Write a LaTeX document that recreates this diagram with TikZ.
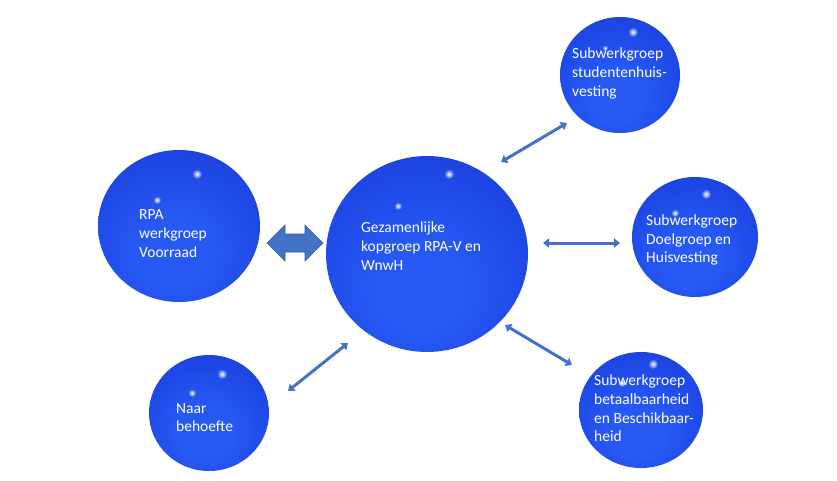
\documentclass[tikz,border=0pt]{standalone}
\usepackage{fontspec}
\setmainfont{Carlito}
\usetikzlibrary{shapes.geometric,arrows.meta,fadings}
\definecolor{arrowblue}{RGB}{68,114,196}
\definecolor{arrowedge}{RGB}{52,90,160}
\definecolor{sphA}{RGB}{38,88,242}
\definecolor{sphB}{RGB}{30,72,230}
\definecolor{sphM}{RGB}{24,56,210}
\definecolor{sphC}{RGB}{18,40,182}
\pgfdeclareradialshading{spherebody}{\pgfpoint{-2bp}{-10bp}}{color(0bp)=(sphA); color(12bp)=(sphA); color(28bp)=(sphB); color(42bp)=(sphM); color(50bp)=(sphC); color(100bp)=(sphC)}
\tikzfading[name=glow, inner color=transparent!0, outer color=transparent!100]
\tikzset{
  sphere/.style={ellipse, draw=none, shading=spherebody, inner sep=0pt},
  lbl/.style={text=white, font=\fontsize{15.5}{18.7}\selectfont, align=left, anchor=west, inner sep=0pt},
  link/.style={draw=arrowblue, line width=3pt, {Triangle[length=6pt,width=9pt]}-{Triangle[length=6pt,width=9pt]}},
  blockarrow/.style={fill=arrowblue, draw=arrowedge, line width=0.6pt, line join=miter}
}
\begin{document}
\begin{tikzpicture}[x=1pt,y=-1pt]
\useasboundingbox (0,0) rectangle (837,480);
\fill[white] (0,0) rectangle (837,480);
% spheres
\node[sphere, minimum width=162pt, minimum height=152pt] (rpa) at (179,226) {};
\node[sphere, minimum width=202pt, minimum height=196pt] (mid) at (427,254) {};
\node[sphere, minimum width=120pt, minimum height=116pt] (tr) at (620,75) {};
\node[sphere, minimum width=126pt, minimum height=120pt] (mr) at (695,237) {};
\node[sphere, minimum width=124pt, minimum height=116pt] (br) at (641,410) {};
\node[sphere, minimum width=120pt, minimum height=116pt] (bl) at (209,413) {};
% highlights
\foreach \x/\y/\r in {197/174/5, 157/200/4, 449/174/5, 398/206/4, 633/32/5, 605/48/3, 706/194/5, 675/213/4, 653/364/5, 622/383/4, 222/374/5, 192/393/4}
  \fill[white, path fading=glow] (\x,\y) circle (\r);
% texts
\node[lbl] (rpa-t) at (139,233.5) {RPA\\werkgroep\\Voorraad};
\node[lbl] (mid-t) at (361,246) {Gezamenlijke\\kopgroep RPA-V en\\WnwH};
\node[lbl] (tr-t) at (572,73.5) {Subwerkgroep\\studentenhuis-\\vesting};
\node[lbl] (mr-t) at (646,240) {Subwerkgroep\\Doelgroep en\\Huisvesting};
\node[lbl] (br-t) at (594,408.5) {Subwerkgroep\\betaalbaarheid\\en Beschikbaar-\\heid};
\node[lbl] (bl-t) at (176,417.5) {Naar\\behoefte};
% connectors
\coordinate (a1s) at (501,162); \coordinate (a1e) at (567,123);
\coordinate (a2s) at (543,243); \coordinate (a2e) at (620,243);
\coordinate (a3s) at (505,325); \coordinate (a3e) at (572,365);
\coordinate (a4s) at (288,391); \coordinate (a4e) at (348,343);
\draw[link] (a1s) -- (a1e);
\draw[link] (a2s) -- (a2e);
\draw[link] (a3s) -- (a3e);
\draw[link] (a4s) -- (a4e);
% block double arrow between rpa and mid
\coordinate (bL) at (267,243); \coordinate (bR) at (323,243);
\draw[blockarrow] (bL) -- ++(18,-18) -- ++(0,9) -- ++(20,0) -- ++(0,-9) -- (bR)
  -- ++(-18,18) -- ++(0,-9) -- ++(-20,0) -- ++(0,9) -- cycle;
\end{tikzpicture}
\end{document}
